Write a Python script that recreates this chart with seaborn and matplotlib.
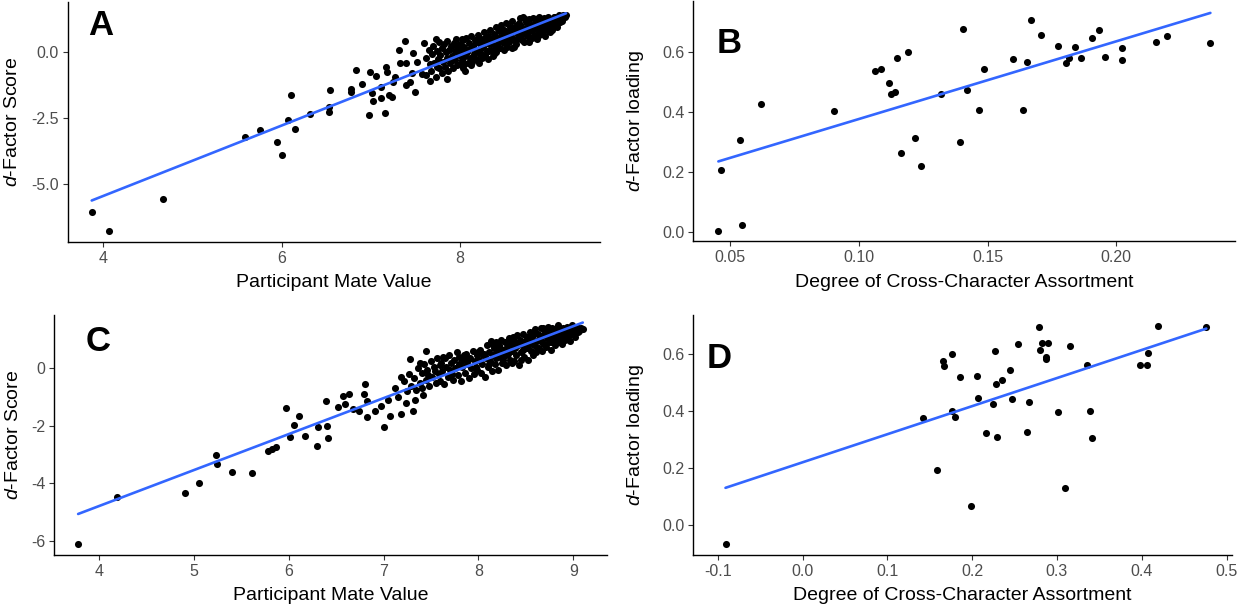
import matplotlib
matplotlib.use("Agg")
import matplotlib.pyplot as plt
import numpy as np
import pandas as pd
import seaborn as sns

# ---------------------------------------------------------------- data
# Panel A: participant mate value vs d-factor score
a_points = [
    (3.87, -6.06), (4.06, -6.77), (4.67, -5.57), (5.59, -3.19), (5.76, -2.95),
    (5.95, -3.38), (6.01, -3.90), (6.07, -2.56), (6.15, -2.92), (6.10, -1.62),
    (6.32, -2.34), (6.53, -2.25), (6.53, -2.06), (6.54, -1.43), (6.78, -1.40),
    (6.78, -1.52), (6.84, -0.67), (6.90, -1.21), (6.98, -2.39), (6.99, -0.73),
    (7.01, -1.55), (7.02, -1.83), (7.06, -0.90), (7.12, -1.75), (7.12, -1.33),
    (7.16, -2.29), (7.17, -0.57), (7.18, -0.73), (7.20, -1.62), (7.24, -1.68),
    (7.25, -1.11), (7.27, -0.92), (7.32, 0.09), (7.33, -0.39), (7.38, 0.43),
    (7.39, -1.24), (7.40, -0.42), (7.44, -1.11), (7.46, -0.80), (7.47, -0.04),
    (7.50, -1.49), (7.52, -0.35), (7.58, -0.83), (7.60, 0.34), (7.66, -1.09),
    (7.73, 0.49), (7.74, -0.54), (7.85, -1.02), (8.06, -0.71),
    (7.62, -0.20), (7.62, -0.85), (7.65, 0.10), (7.66, -0.45), (7.68, -0.70),
    (7.69, -0.05), (7.70, 0.25), (7.71, -0.40), (7.73, -0.95), (7.74, 0.05),
    (7.75, -0.25), (7.76, 0.38), (7.77, -0.60), (7.78, -0.10), (7.80, 0.15),
    (7.80, -0.80), (7.81, -0.35), (7.82, 0.30), (7.83, -0.55), (7.84, 0.00),
    (7.85, -0.20), (7.86, 0.42), (7.87, -0.70), (7.88, 0.10), (7.89, -0.40),
    (7.90, 0.22), (7.91, -0.15), (7.92, -0.60), (7.93, 0.35), (7.94, 0.05),
    (7.95, -0.30), (7.96, 0.50), (7.97, -0.50), (7.98, 0.15), (7.99, -0.10),
    (8.00, 0.30), (8.00, -0.45), (7.93, -0.25), (7.97, 0.20),
    (8.01, 0.05), (8.02, -0.30), (8.03, 0.45), (8.04, -0.60), (8.05, 0.20),
    (8.06, -0.15), (8.07, 0.55), (8.08, 0.00), (8.09, -0.40), (8.10, 0.35),
    (8.11, -0.20), (8.12, 0.15), (8.13, 0.60), (8.14, -0.35), (8.15, 0.25),
    (8.16, -0.05), (8.17, 0.45), (8.18, -0.25), (8.19, 0.10), (8.20, 0.65),
    (8.21, -0.40), (8.22, 0.30), (8.23, 0.00), (8.24, 0.50), (8.25, -0.20),
    (8.26, 0.20), (8.27, 0.75), (8.28, -0.10), (8.29, 0.40), (8.30, 0.05),
    (8.31, 0.60), (8.32, -0.25), (8.33, 0.30), (8.34, 0.85), (8.35, 0.10),
    (8.36, 0.50), (8.37, -0.15), (8.38, 0.70), (8.39, 0.25), (8.40, 0.95),
    (8.41, 0.00), (8.42, 0.55), (8.43, 0.35), (8.44, 0.80), (8.45, 0.15),
    (8.46, 1.05), (8.47, 0.45), (8.48, 0.65), (8.49, 0.10), (8.50, 0.85),
    (8.50, 0.35), (8.05, -0.45), (8.12, -0.50), (8.18, 0.40), (8.25, 0.35),
    (8.33, 0.05), (8.38, -0.05), (8.42, 0.20), (8.47, 0.85), (8.02, 0.50),
    (8.09, 0.10), (8.15, -0.20), (8.22, -0.05), (8.28, 0.55), (8.35, 0.40),
    (8.44, 0.55), (8.49, 0.40),
    (8.51, 0.55), (8.52, 1.10), (8.53, 0.20), (8.54, 0.75), (8.55, 0.40),
    (8.56, 0.95), (8.57, 0.60), (8.58, 0.15), (8.59, 1.20), (8.60, 0.80),
    (8.61, 0.45), (8.62, 0.95), (8.63, 0.30), (8.64, 1.05), (8.65, 0.65),
    (8.66, 0.85), (8.67, 1.30), (8.68, 0.50), (8.69, 1.00), (8.70, 0.70),
    (8.71, 1.35), (8.72, 0.40), (8.73, 0.90), (8.74, 1.15), (8.75, 0.60),
    (8.76, 1.00), (8.77, 0.80), (8.78, 1.25), (8.79, 0.55), (8.80, 1.05),
    (8.81, 0.85), (8.82, 1.30), (8.83, 0.65), (8.84, 1.10), (8.85, 0.95),
    (8.86, 0.50), (8.87, 1.20), (8.88, 0.80), (8.89, 1.35), (8.90, 1.00),
    (8.91, 0.70), (8.92, 1.15), (8.93, 0.90), (8.94, 1.30), (8.95, 0.60),
    (8.96, 1.05), (8.97, 1.20), (8.98, 0.85), (8.99, 1.35), (9.00, 1.00),
    (8.53, 0.45), (8.57, 0.90), (8.61, 0.20), (8.64, 0.50), (8.70, 0.45),
    (8.73, 1.25), (8.77, 0.40), (8.81, 0.55), (8.85, 1.25), (8.88, 0.60),
    (8.92, 0.80), (8.95, 1.15), (8.55, 0.80), (8.66, 1.10), (8.76, 0.75),
    (8.83, 0.95), (8.97, 0.95),
    (9.02, 1.20), (9.03, 0.85), (9.05, 1.35), (9.06, 1.05), (9.08, 1.25),
    (9.09, 0.95), (9.11, 1.40), (9.12, 1.15), (9.14, 1.30), (9.16, 1.42),
    (9.18, 1.35), (9.19, 1.40), (9.01, 0.75), (9.04, 1.10), (9.10, 1.10),
    (9.15, 1.20), (9.07, 1.35),
]

# Panel B: degree of cross-character assortment vs d-factor loading
b_points = [
    (0.0454, 0.004), (0.0464, 0.208), (0.0538, 0.308), (0.0544, 0.023),
    (0.0620, 0.427), (0.0905, 0.403), (0.1064, 0.538), (0.1085, 0.543),
    (0.1118, 0.497), (0.1125, 0.462), (0.1140, 0.467), (0.1150, 0.581),
    (0.1164, 0.266), (0.1189, 0.600), (0.1220, 0.314), (0.1242, 0.220),
    (0.1320, 0.460), (0.1394, 0.300), (0.1404, 0.678), (0.1421, 0.474),
    (0.1466, 0.408), (0.1487, 0.546), (0.1599, 0.578), (0.1637, 0.407),
    (0.1655, 0.567), (0.1669, 0.708), (0.1706, 0.657), (0.1772, 0.622),
    (0.1805, 0.566), (0.1818, 0.580), (0.1839, 0.619), (0.1864, 0.580),
    (0.1907, 0.647), (0.1934, 0.674), (0.1957, 0.583), (0.2024, 0.613),
    (0.2024, 0.573), (0.2154, 0.633), (0.2198, 0.656), (0.2366, 0.630),
]

# Panel C: participant mate value vs d-factor score (second sample)
c_points = [
    (3.78, -6.10), (4.19, -4.46), (4.91, -4.34), (5.05, -3.98), (5.23, -3.00),
    (5.24, -3.34), (5.40, -3.59), (5.61, -3.63), (5.78, -2.86), (5.82, -2.80),
    (5.87, -2.74), (5.97, -1.38), (6.01, -2.37), (6.06, -1.98), (6.11, -1.64),
    (6.17, -2.35), (6.30, -2.70), (6.31, -2.05), (6.39, -1.15), (6.40, -1.99),
    (6.41, -2.43), (6.52, -1.35), (6.57, -0.95), (6.59, -1.25), (6.64, -0.88),
    (6.68, -1.42), (6.74, -1.47), (6.79, -0.88), (6.80, -0.54), (6.82, -1.12),
    (6.83, -1.70), (6.91, -1.48), (6.97, -1.31), (7.00, -2.03), (7.05, -1.10),
    (7.07, -1.66), (7.12, -0.69), (7.15, -1.01), (7.18, -1.60), (7.18, -0.29),
    (7.24, -1.22), (7.28, 0.31), (7.31, -1.48), (7.33, -1.10), (7.38, 0.20),
    (7.45, 0.61), (7.42, -0.93),
    (7.22, -0.45), (7.25, -0.80), (7.27, -0.20), (7.29, -0.60), (7.32, -0.35),
    (7.34, -0.75), (7.36, 0.00), (7.38, -0.50), (7.40, -0.15), (7.41, -0.70),
    (7.43, 0.15), (7.45, -0.40), (7.46, -0.05), (7.48, -0.60), (7.50, 0.25),
    (7.51, -0.30), (7.53, 0.05), (7.55, -0.50), (7.56, 0.35), (7.58, -0.20),
    (7.59, 0.10), (7.60, -0.45), (7.54, -0.10), (7.47, -0.25),
    (7.61, 0.20), (7.62, -0.10), (7.64, -0.55), (7.65, 0.35), (7.66, 0.05),
    (7.68, -0.30), (7.69, 0.45), (7.70, -0.05), (7.71, 0.20), (7.73, -0.40),
    (7.74, 0.30), (7.75, 0.00), (7.77, 0.55), (7.78, -0.25), (7.79, 0.15),
    (7.80, 0.40), (7.82, -0.45), (7.83, 0.05), (7.84, 0.30), (7.86, -0.15),
    (7.87, 0.50), (7.88, 0.15), (7.90, -0.35), (7.91, 0.35), (7.92, 0.00),
    (7.94, 0.60), (7.95, -0.20), (7.96, 0.25), (7.98, 0.45), (7.99, -0.05),
    (7.63, 0.40), (7.72, -0.20), (7.81, 0.10), (7.89, 0.30), (7.97, 0.05),
    (7.85, 0.45),
    (8.01, 0.30), (8.02, 0.65), (8.03, -0.15), (8.04, 0.15), (8.06, 0.50),
    (8.07, -0.30), (8.08, 0.35), (8.09, 0.80), (8.10, 0.05), (8.11, 0.55),
    (8.12, 0.25), (8.13, 0.95), (8.14, -0.10), (8.15, 0.45), (8.16, 0.70),
    (8.17, 0.15), (8.18, 0.90), (8.19, 0.35), (8.20, 0.60), (8.21, -0.05),
    (8.22, 0.80), (8.23, 0.40), (8.24, 1.00), (8.25, 0.20), (8.26, 0.65),
    (8.27, 0.45), (8.28, 0.90), (8.29, 0.10), (8.30, 0.75), (8.31, 0.50),
    (8.32, 1.05), (8.33, 0.30), (8.34, 0.85), (8.35, 0.60), (8.36, 1.10),
    (8.37, 0.25), (8.38, 0.95), (8.39, 0.70), (8.40, 0.45), (8.41, 1.15),
    (8.42, 0.80), (8.43, 0.10), (8.44, 1.00), (8.45, 0.55), (8.46, 0.85),
    (8.47, 1.20), (8.48, 0.40), (8.49, 0.95), (8.50, 0.70),
    (8.05, 0.45), (8.11, 0.15), (8.17, 0.50), (8.23, 0.70), (8.29, 0.45),
    (8.35, 0.20), (8.40, 0.85), (8.45, 0.30), (8.00, 0.55), (8.14, 0.85),
    (8.26, 0.30), (8.33, 0.95), (8.47, 0.65),
    (8.51, 1.10), (8.52, 0.30), (8.53, 0.85), (8.54, 1.25), (8.55, 0.60),
    (8.56, 1.00), (8.57, 0.45), (8.58, 1.15), (8.59, 0.80), (8.60, 1.35),
    (8.61, 0.55), (8.62, 0.95), (8.63, 1.20), (8.64, 0.70), (8.65, 1.05),
    (8.66, 1.40), (8.67, 0.60), (8.68, 1.15), (8.69, 0.85), (8.70, 1.30),
    (8.71, 0.75), (8.72, 1.05), (8.73, 1.45), (8.74, 0.90), (8.75, 1.25),
    (8.76, 0.65), (8.77, 1.10), (8.78, 1.40), (8.79, 0.95), (8.80, 1.20),
    (8.81, 0.80), (8.82, 1.35), (8.83, 1.05), (8.84, 1.50), (8.85, 0.90),
    (8.86, 1.25), (8.87, 1.10), (8.88, 0.85), (8.89, 1.40), (8.90, 1.15),
    (8.91, 1.00), (8.92, 1.30), (8.93, 1.45), (8.94, 1.10), (8.95, 1.25),
    (8.96, 0.95), (8.97, 1.40), (8.98, 1.20), (9.00, 1.35), (9.02, 1.10),
    (9.04, 1.45), (9.06, 1.30), (9.08, 1.40), (9.10, 1.35),
    (8.52, 0.70), (8.56, 1.20), (8.62, 0.70), (8.67, 0.90), (8.72, 1.30),
    (8.77, 0.90), (8.82, 1.10), (8.87, 1.35), (8.92, 1.05), (8.96, 1.20),
    (9.01, 1.20), (9.05, 1.25), (8.58, 0.95), (8.68, 1.40), (8.79, 1.25),
    (8.90, 1.30), (8.99, 1.50),
]

# Panel D: degree of cross-character assortment vs d-factor loading (second sample)
d_points = [
    (-0.0908, -0.069), (0.1426, 0.375), (0.1589, 0.192), (0.1652, 0.576),
    (0.1669, 0.558), (0.1765, 0.599), (0.1765, 0.398), (0.1799, 0.379),
    (0.1858, 0.520), (0.1992, 0.066), (0.2059, 0.523), (0.2068, 0.446),
    (0.2164, 0.321), (0.2252, 0.423), (0.2265, 0.609), (0.2277, 0.496),
    (0.2294, 0.309), (0.2353, 0.507), (0.2445, 0.545), (0.2466, 0.443),
    (0.2538, 0.635), (0.2651, 0.327), (0.2672, 0.432), (0.2785, 0.696),
    (0.2798, 0.613), (0.2827, 0.637), (0.2869, 0.581), (0.2877, 0.590),
    (0.2894, 0.637), (0.3016, 0.395), (0.3091, 0.129), (0.3159, 0.629),
    (0.3352, 0.562), (0.3394, 0.398), (0.3410, 0.306), (0.3985, 0.560),
    (0.4057, 0.560), (0.4078, 0.604), (0.4187, 0.700), (0.4762, 0.696),
]

a_mate, a_dscore = map(list, zip(*a_points))
b_assort, b_loading = map(list, zip(*b_points))
c_mate, c_dscore = map(list, zip(*c_points))
d_assort, d_loading = map(list, zip(*d_points))

a_xticks = [4, 6, 8]
a_yticks = [-5.0, -2.5, 0.0]
b_xticks = [0.05, 0.10, 0.15, 0.20]
b_yticks = [0.0, 0.2, 0.4, 0.6]
c_xticks = [4, 5, 6, 7, 8, 9]
c_yticks = [-6, -4, -2, 0]
d_xticks = [-0.1, 0.0, 0.1, 0.2, 0.3, 0.4, 0.5]
d_yticks = [0.0, 0.2, 0.4, 0.6]

# ---------------------------------------------------------------- style
sns.set_style("ticks")
plt.rcParams["font.family"] = ["Liberation Sans", "DejaVu Sans"]
plt.rcParams["axes.unicode_minus"] = False
plt.rcParams["mathtext.fontset"] = "custom"
plt.rcParams["mathtext.it"] = "Liberation Sans:italic"
plt.rcParams["mathtext.rm"] = "Liberation Sans"

W, H = 1239, 609
fig = plt.figure(figsize=(W / 100, H / 100), dpi=100)
fig.patch.set_facecolor("white")

LINE_BLUE = "#3366FF"
TICK_TEXT = "#4D4D4D"


def make_axes(box, xcal, ycal):
    """box = (left, top, right, bottom) in pixels; cal = ((v1, p1), (v2, p2))."""
    l, t, r, b = box
    ax = fig.add_axes([l / W, 1 - b / H, (r - l) / W, (b - t) / H])
    (xv1, xp1), (xv2, xp2) = xcal
    sx = (xv2 - xv1) / (xp2 - xp1)
    ax.set_xlim(xv1 + (l - xp1) * sx, xv1 + (r - xp1) * sx)
    (yv1, yp1), (yv2, yp2) = ycal
    sy = (yv2 - yv1) / (yp2 - yp1)
    ax.set_ylim(yv1 + (b - yp1) * sy, yv1 + (t - yp1) * sy)
    return ax


def draw_panel(ax, x, y, box, xticks, xfmt, yticks, yfmt, xlabel, ylabel,
               ylabel_px, xlabel_top_px):
    sns.regplot(x=np.array(x), y=np.array(y), ax=ax, ci=None, truncate=True,
                color="black",
                scatter_kws=dict(s=26, linewidths=0, alpha=1, zorder=2),
                line_kws=dict(color=LINE_BLUE, lw=1.9, zorder=3))
    l, t, r, b = box
    ax.set_xticks(xticks)
    ax.set_xticklabels([xfmt.format(v) for v in xticks])
    ax.set_yticks(yticks)
    ax.set_yticklabels([yfmt.format(v) for v in yticks])
    ax.tick_params(length=3.8, width=0.8, color="#333333",
                   labelcolor=TICK_TEXT, labelsize=11.5, pad=2.5)
    for side in ("left", "bottom"):
        ax.spines[side].set_linewidth(1.0)
        ax.spines[side].set_color("black")
    sns.despine(ax=ax)
    ax.set_xlabel(xlabel, fontsize=14, color="black")
    ax.set_ylabel(ylabel, fontsize=14, color="black")
    ax.xaxis.set_label_coords(0.5, (b - xlabel_top_px) / (b - t))
    ax.yaxis.set_label_coords((ylabel_px - l) / (r - l), 0.5)
    ax.set_facecolor("white")


SCORE_LABEL = r"$\mathit{d}$-Factor Score"
LOADING_LABEL = r"$\mathit{d}$-Factor loading"
MV_LABEL = "Participant Mate Value"
ASSORT_LABEL = "Degree of Cross-Character Assortment"

box_a = (67.7, 2.4, 600, 242)
ax_a = make_axes(box_a, ((4, 103.3), (8, 459.9)), ((0, 52.3), (-5, 184.3)))
draw_panel(ax_a, a_mate, a_dscore, box_a, a_xticks, "{:g}", a_yticks, "{:.1f}",
           MV_LABEL, SCORE_LABEL, 21, 274)

box_b = (693.3, 1.0, 1235, 241.3)
ax_b = make_axes(box_b, ((0.05, 730.2), (0.20, 1116.2)), ((0.0, 232.3), (0.6, 52.3)))
draw_panel(ax_b, b_assort, b_loading, box_b, b_xticks, "{:.2f}", b_yticks, "{:.1f}",
           ASSORT_LABEL, LOADING_LABEL, 646, 274)

box_c = (54, 315, 607, 555)
ax_c = make_axes(box_c, ((4, 99), (9, 573.3)), ((0, 368.3), (-6, 541)))
draw_panel(ax_c, c_mate, c_dscore, box_c, c_xticks, "{:g}", c_yticks, "{:g}",
           MV_LABEL, SCORE_LABEL, 22, 587)

box_d = (693.3, 315, 1232, 555)
ax_d = make_axes(box_d, ((-0.1, 717.7), (0.5, 1226.5)), ((0.0, 524.7), (0.6, 354)))
draw_panel(ax_d, d_assort, d_loading, box_d, d_xticks, "{:.1f}", d_yticks, "{:.1f}",
           ASSORT_LABEL, LOADING_LABEL, 646, 587)

# Panel letters
for letter, (px, py) in {"A": (88, 35), "B": (717, 53),
                         "C": (86, 351), "D": (707, 368)}.items():
    fig.text(px / W, 1 - py / H, letter, fontsize=25, fontweight="bold",
             ha="left", va="baseline", color="black")

fig.savefig("out.png", dpi=100, facecolor="white")
